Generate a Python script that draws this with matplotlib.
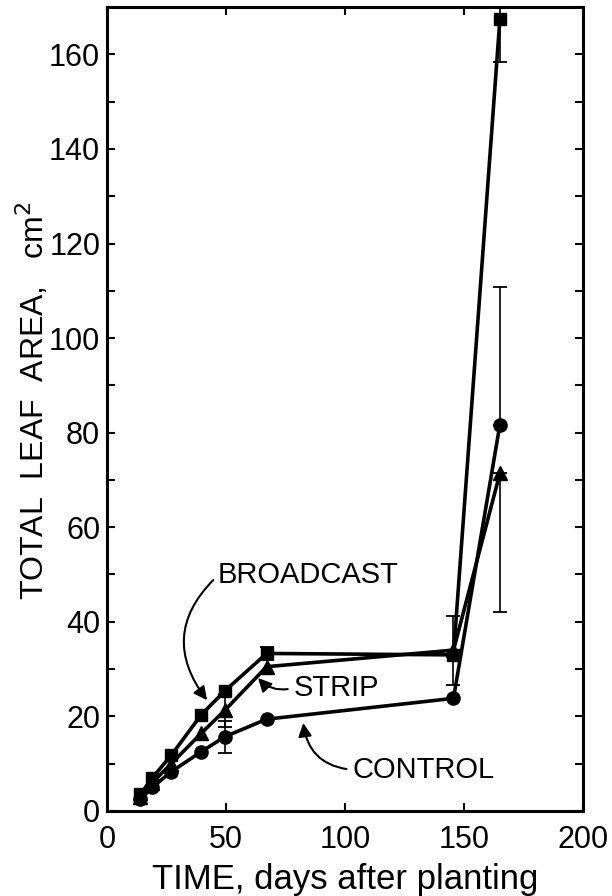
import matplotlib
matplotlib.use("Agg")
import matplotlib.pyplot as plt
from matplotlib.ticker import MultipleLocator

# ---- data ----
days = [14, 19, 27, 39.5, 49.5, 67, 145.5, 165]
broadcast = [3.5, 7.0, 11.8, 20.3, 25.4, 33.3, 33.0, 167.5]
strip = [3.0, 6.0, 10.0, 16.4, 21.3, 30.5, 34.0, 71.4]
control = [2.5, 5.0, 8.3, 12.5, 15.7, 19.4, 23.8, 81.7]

# error bars (lower, upper) per series
broadcast_err_lo = [0, 0, 0, 0, 0, 1.3, 0, 9.2]
broadcast_err_hi = [0, 0, 0, 0, 0, 1.3, 0, 9.2]
strip_err_lo = [0, 0, 0, 0, 3.5, 0, 7.3, 29.3]
strip_err_hi = [0, 0, 0, 0, 3.5, 0, 7.3, 0]
control_err_lo = [0, 0, 0, 0, 3.4, 0, 0, 0]
control_err_hi = [0, 0, 0, 0, 3.4, 0, 0, 29.2]

x_ticks = [0, 50, 100, 150, 200]
y_ticks = [0, 20, 40, 60, 80, 100, 120, 140, 160]

fig = plt.figure(figsize=(6.12, 8.96), dpi=100)
ax = fig.add_axes([0.175, 0.095, 0.778, 0.897])

lw = 2.6
ax.plot(days, broadcast, color="black", lw=lw, marker="s", ms=9, zorder=3)
ax.plot(days, strip, color="black", lw=lw, marker="^", ms=10, zorder=3)
ax.plot(days, control, color="black", lw=lw, marker="o", ms=9.5, zorder=3)

for y, lo, hi in [(broadcast, broadcast_err_lo, broadcast_err_hi),
                  (strip, strip_err_lo, strip_err_hi),
                  (control, control_err_lo, control_err_hi)]:
    xs = [d for d, l, h in zip(days, lo, hi) if l > 0 or h > 0]
    ys = [v for v, l, h in zip(y, lo, hi) if l > 0 or h > 0]
    ls = [l for l, h in zip(lo, hi) if l > 0 or h > 0]
    hs = [h for l, h in zip(lo, hi) if l > 0 or h > 0]
    ax.errorbar(xs, ys, yerr=[ls, hs], fmt="none", ecolor="black",
                elinewidth=1.2, capsize=5, capthick=1.3, zorder=2)

ax.set_xlim(0, 200)
ax.set_ylim(0, 170)
ax.set_xticks(x_ticks)
ax.set_yticks(y_ticks)
ax.yaxis.set_minor_locator(MultipleLocator(10))

tick_font = ["Liberation Sans", "DejaVu Sans"]
ax.set_xticklabels([str(t) for t in x_ticks], family=tick_font, fontsize=22)
ax.set_yticklabels([str(t) for t in y_ticks], family=tick_font, fontsize=22)

ax.tick_params(which="both", direction="in", top=True, right=True,
               length=6, width=1.5)
ax.tick_params(axis="y", pad=5)
ax.tick_params(axis="x", pad=10)
for s in ax.spines.values():
    s.set_linewidth(2.2)

ax.set_ylabel("TOTAL  LEAF  AREA,   cm$^2$", family=["Liberation Sans", "DejaVu Sans"],
              fontsize=23)
ax.yaxis.set_label_coords(-0.118, 0.51)
ax.set_xlabel("TIME, days after planting", family=["Liberation Sans", "DejaVu Sans"],
              fontsize=25, labelpad=6)

ann_font = dict(family=["Liberation Sans", "DejaVu Sans"], fontsize=21)
arrow = dict(arrowstyle="-|>", color="black", lw=1.5, mutation_scale=20,
             shrinkA=2, shrinkB=0)
ax.annotate("BROADCAST", xy=(42.0, 23.4), xytext=(46.6, 49.8),
            ha="left", va="center", **ann_font,
            arrowprops=dict(arrow, relpos=(0, 0.5), connectionstyle="arc3,rad=0.45"))
ax.annotate("STRIP", xy=(63.4, 28.1), xytext=(78.2, 26.0),
            ha="left", va="center", **ann_font,
            arrowprops=dict(arrow, relpos=(0, 0.5), connectionstyle="arc3,rad=-0.3"))
ax.annotate("CONTROL", xy=(82.4, 18.6), xytext=(102.9, 8.7),
            ha="left", va="center", **ann_font,
            arrowprops=dict(arrow, relpos=(0, 0.5), connectionstyle="arc3,rad=-0.4"))

fig.savefig("out.png", dpi=100)
